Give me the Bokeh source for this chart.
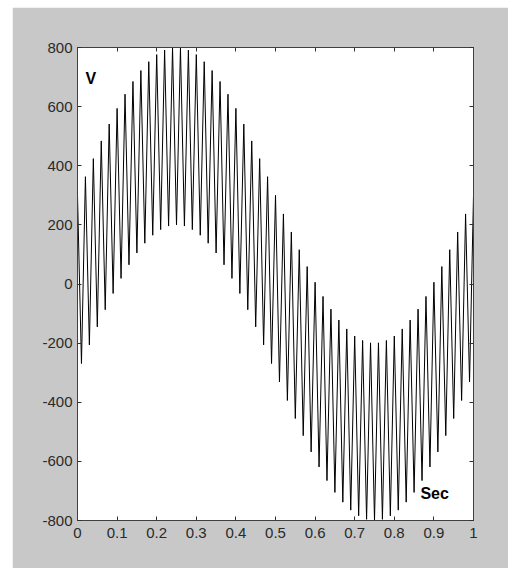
from bokeh.plotting import figure
from bokeh.models import LinearAxis, FixedTicker, Range1d, Label, CustomJSTickFormatter
from bokeh.embed import file_html
from bokeh.resources import INLINE

# Time samples (s) at the extremes of the ripple and the voltage read there (V)
t_sec = [0.00, 0.01, 0.02, 0.03, 0.04, 0.05, 0.06, 0.07, 0.08, 0.09,
         0.10, 0.11, 0.12, 0.13, 0.14, 0.15, 0.16, 0.17, 0.18, 0.19,
         0.20, 0.21, 0.22, 0.23, 0.24, 0.25, 0.26, 0.27, 0.28, 0.29,
         0.30, 0.31, 0.32, 0.33, 0.34, 0.35, 0.36, 0.37, 0.38, 0.39,
         0.40, 0.41, 0.42, 0.43, 0.44, 0.45, 0.46, 0.47, 0.48, 0.49,
         0.50, 0.51, 0.52, 0.53, 0.54, 0.55, 0.56, 0.57, 0.58, 0.59,
         0.60, 0.61, 0.62, 0.63, 0.64, 0.65, 0.66, 0.67, 0.68, 0.69,
         0.70, 0.71, 0.72, 0.73, 0.74, 0.75, 0.76, 0.77, 0.78, 0.79,
         0.80, 0.81, 0.82, 0.83, 0.84, 0.85, 0.86, 0.87, 0.88, 0.89,
         0.90, 0.91, 0.92, 0.93, 0.94, 0.95, 0.96, 0.97, 0.98, 0.99,
         1.00]
volts = [300, -269, 363, -206, 424, -145, 484, -87, 541, -32,
         594, 19, 642, 65, 685, 105, 722, 138, 752, 165,
         776, 184, 791, 196, 799, 200, 799, 196, 791, 184,
         776, 165, 752, 138, 722, 105, 685, 65, 642, 19,
         594, -32, 541, -87, 484, -145, 424, -206, 363, -269,
         300, -331, 237, -394, 176, -455, 116, -513, 59, -568,
         6, -619, -42, -665, -85, -705, -122, -738, -152, -765,
         -176, -784, -191, -796, -199, -800, -199, -796, -191, -784,
         -176, -765, -152, -738, -122, -705, -85, -665, -42, -619,
         6, -568, 59, -513, 116, -455, 176, -394, 237, -331,
         300]

x_ticks = [0, 0.1, 0.2, 0.3, 0.4, 0.5, 0.6, 0.7, 0.8, 0.9, 1]
x_tick_labels = ["0", "0.1", "0.2", "0.3", "0.4", "0.5", "0.6", "0.7", "0.8", "0.9", "1"]
y_ticks = [-800, -600, -400, -200, 0, 200, 400, 600, 800]
y_tick_labels = ["-800", "-600", "-400", "-200", "0", "200", "400", "600", "800"]

GRAY = "#C8C8C8"
TICK_FONT = "Liberation Sans Narrow, Liberation Sans, Arial, sans-serif"

p = figure(frame_width=396, frame_height=473,
           min_border_left=65, min_border_right=35,
           min_border_top=40, min_border_bottom=48,
           x_range=Range1d(0, 1), y_range=Range1d(-800, 800),
           output_backend="svg", toolbar_location=None,
           x_axis_type=None, y_axis_type=None)
p.margin = (7, 0, 0, 12)
p.border_fill_color = GRAY
p.background_fill_color = "white"
p.outline_line_color = "#404040"
p.outline_line_width = 1
p.grid.visible = False


def style_axis(ax, ticks, labels, show_labels):
    ax.ticker = FixedTicker(ticks=ticks)
    if show_labels:
        ax.major_label_overrides = {t: l for t, l in zip(ticks, labels)}
        ax.major_label_text_font = TICK_FONT
        ax.major_label_text_font_size = "15px"
        ax.major_label_text_color = "#2a2a2a"
    else:
        ax.formatter = CustomJSTickFormatter(code="return ''")
    ax.major_tick_in = 4
    ax.major_tick_out = 0
    ax.minor_tick_in = 0
    ax.minor_tick_out = 0
    ax.major_tick_line_color = "#303030"
    ax.axis_line_color = "#404040"


bottom = LinearAxis()
style_axis(bottom, x_ticks, x_tick_labels, True)
bottom.major_label_standoff = 7
p.add_layout(bottom, "below")

left = LinearAxis()
style_axis(left, y_ticks, y_tick_labels, True)
left.major_label_standoff = 5
p.add_layout(left, "left")

top = LinearAxis()
style_axis(top, x_ticks, x_tick_labels, False)
p.add_layout(top, "above")

right = LinearAxis()
style_axis(right, y_ticks, y_tick_labels, False)
p.add_layout(right, "right")

p.line(t_sec, volts, line_color="black", line_width=1)

p.add_layout(Label(x=0.02, y=665, text="V", text_font="Liberation Sans",
                   text_font_size="16px", text_font_style="bold", text_color="black"))
p.add_layout(Label(x=0.866, y=-739, text="Sec", text_font="Liberation Sans",
                   text_font_size="16px", text_font_style="bold", text_color="black"))

open("out.html", "w").write(file_html(p, INLINE))
